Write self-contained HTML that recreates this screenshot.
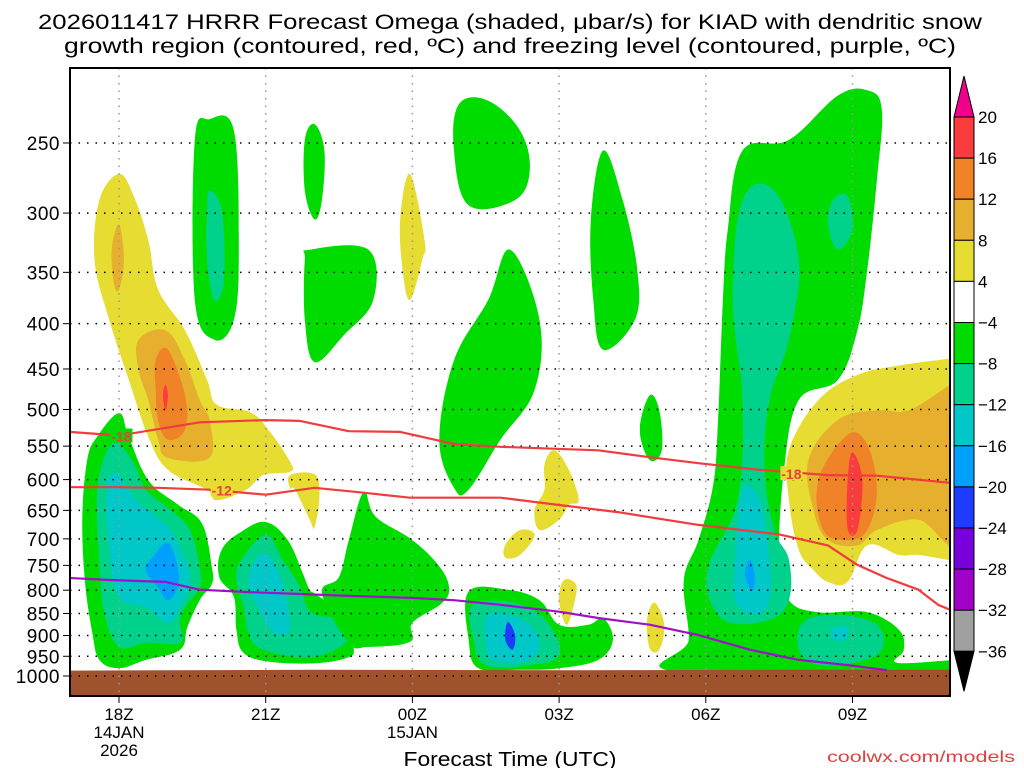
<!DOCTYPE html>
<html><head><meta charset="utf-8"><style>
html,body{margin:0;padding:0;background:#fff;}
svg{display:block;}
</style></head><body>
<svg id="chart" width="1024" height="768" viewBox="0 0 1024 768" xmlns="http://www.w3.org/2000/svg" font-family="'Liberation Sans', sans-serif">
<defs><clipPath id="plotclip"><rect x="71" y="69" width="878" height="626"/></clipPath></defs>
<text x="510" y="29" text-anchor="middle" font-size="21" textLength="944" lengthAdjust="spacingAndGlyphs">2026011417 HRRR Forecast Omega (shaded, μbar/s) for KIAD with dendritic snow</text>
<text x="510" y="53" text-anchor="middle" font-size="21" textLength="892" lengthAdjust="spacingAndGlyphs">growth region (contoured, red, ºC) and freezing level (contoured, purple, ºC)</text>
<g id="fills" clip-path="url(#plotclip)"></g>
<g id="grid"></g>
<g id="lines" clip-path="url(#plotclip)"></g>
<rect x="70" y="68" width="880" height="628" fill="none" stroke="#000" stroke-width="2"/>
<g id="axes"></g>
<g id="cbar"></g>
<text x="510" y="766" text-anchor="middle" font-size="20" textLength="213" lengthAdjust="spacingAndGlyphs">Forecast Time (UTC)</text>
<text x="1015" y="762" text-anchor="end" font-size="16" fill="#e04040" textLength="188" lengthAdjust="spacingAndGlyphs">coolwx.com/models</text>
</svg>
<script>
// ---- data ----
const pressureTicks = [250,300,350,400,450,500,550,600,650,700,750,800,850,900,950,1000];
const timeTickHours = [18,21,24,27,30,33];
const timeTickLabels = [["18Z","14JAN","2026"],["21Z"],["00Z","15JAN"],["03Z"],["06Z"],["09Z"]];
const cbarLevels = [20,16,12,8,4,-4,-8,-12,-16,-20,-24,-28,-32,-36];
const cbarColors = ["#fa3c3c","#f08228","#e6af2d","#e6dc32","#ffffff","#00dc00","#00d28c","#00c8c8","#00a0ff","#1e3cff","#7800dc","#a000c8","#a0a0a0"];
const groundPressure = [[17,986],[22,984],[27,985],[32,984],[35.2,984]];

const blobLevels = [];
const blobShapes = [];
function addBlob(level, pts){ blobLevels.push(level); blobShapes.push(pts); }
addBlob(6,[[18.0,271],[18.3,287],[18.6,322],[18.8,366],[19.35,407],[19.8,463],[20.0,494],[20.7,504],[21.1,531],[21.5,573],[21.5,588],[20.95,593],[20.6,616],[20.0,633],[19.8,616],[19.0,585],[18.6,537],[18.2,463],[17.8,396],[17.5,339],[17.6,290]]);
addBlob(10,[[18.0,309],[18.1,339],[18.0,366],[17.9,361],[17.85,330]]);
addBlob(10,[[18.4,417],[18.95,407],[19.35,440],[19.65,488],[19.85,514],[19.85,567],[19.0,567],[18.8,541],[18.6,488],[18.4,451]]);
addBlob(14,[[18.75,440],[19.0,428],[19.35,482],[19.35,527],[19.0,541],[18.8,514],[18.75,475]]);
addBlob(18,[[18.95,469],[19.0,482],[18.95,501],[18.9,482]]);
addBlob(6,[[21.5,593],[22.0,592],[22.1,624],[22.0,679],[21.9,666],[21.6,616],[21.5,614]]);
addBlob(6,[[23.95,271],[24.25,322],[24.2,339],[23.95,376],[23.8,348],[23.75,305]]);
addBlob(6,[[26.9,556],[27.2,585],[27.4,633],[27.2,641],[27.0,666],[26.6,684],[26.5,649],[26.7,616],[26.7,577]]);
addBlob(6,[[26.2,684],[26.5,693],[26.2,730],[25.9,735],[25.9,711]]);
addBlob(6,[[27.1,779],[27.35,789],[27.3,831],[27.15,875],[27.0,821]]);
addBlob(6,[[28.95,826],[29.15,875],[29.05,934],[28.85,930],[28.8,864]]);
addBlob(6,[[31.7,556],[32.3,488],[33.1,457],[33.95,446],[35.0,438],[35.2,438],[35.2,742],[35.0,740],[34.35,730],[33.95,730],[33.3,712],[32.9,783],[32.5,783],[32.2,759],[31.9,720],[31.7,633]]);
addBlob(10,[[32.1,570],[32.7,514],[33.5,501],[34.15,501],[35.0,469],[35.2,469],[35.2,702],[34.35,666],[33.5,684],[33.1,712],[32.5,702],[32.2,649]]);
addBlob(14,[[32.3,601],[32.9,534],[33.3,548],[33.5,616],[33.3,684],[32.9,702],[32.4,684]]);
addBlob(18,[[32.9,601],[33.0,559],[33.2,601],[33.1,684],[32.9,681]]);
addBlob(-6,[[19.85,235],[20.35,242],[20.45,330],[20.35,396],[19.95,417],[19.55,376],[19.55,248]]);
addBlob(-10,[[19.85,283],[20.1,298],[20.15,357],[19.95,376],[19.8,339],[19.8,298]]);
addBlob(-6,[[22.0,238],[22.2,255],[22.15,290],[22.0,305],[21.8,283],[21.8,248]]);
addBlob(-6,[[21.9,330],[23.1,330],[23.2,376],[22.6,412],[22.0,442],[21.8,396],[21.8,339]]);
addBlob(-6,[[24.95,226],[25.55,224],[26.2,242],[26.4,268],[26.1,290],[25.15,294],[24.85,255]]);
addBlob(-6,[[26.0,330],[26.6,396],[26.5,475],[25.8,541],[25.15,616],[24.85,613],[24.55,541],[24.85,440],[25.55,376]]);
addBlob(-6,[[27.9,255],[28.3,290],[28.6,348],[28.55,396],[27.9,428],[27.7,376],[27.65,305]]);
addBlob(-6,[[28.85,482],[29.05,501],[29.1,556],[28.85,570],[28.65,527]]);
addBlob(-6,[[30.45,313],[30.75,255],[31.7,248],[32.7,221],[33.3,218],[33.6,229],[33.5,275],[33.3,348],[33.1,407],[32.7,463],[31.9,488],[31.6,585],[31.5,739],[31.7,821],[32.3,847],[33.3,847],[33.95,887],[34.05,934],[33.9,966],[35.0,960],[35.2,960],[35.2,990],[29.45,990],[29.65,910],[29.55,779],[29.85,702],[30.15,609],[30.25,514],[30.35,376]]);
addBlob(-10,[[30.75,290],[31.4,283],[31.9,339],[31.7,417],[31.3,488],[31.2,585],[31.4,684],[31.7,739],[31.7,821],[31.3,864],[30.45,869],[30.05,810],[30.1,739],[30.65,633],[30.75,488],[30.55,376]]);
addBlob(-10,[[32.6,290],[32.9,287],[33.0,313],[32.7,330],[32.5,309]]);
addBlob(-14,[[30.75,616],[31.1,633],[31.3,739],[31.3,821],[31.0,853],[30.6,821],[30.6,739]]);
addBlob(-18,[[30.9,739],[31.0,769],[30.95,803],[30.8,769]]);
addBlob(-10,[[32.0,869],[32.7,853],[33.5,875],[33.6,934],[33.1,964],[32.3,971],[31.9,934]]);
addBlob(-14,[[32.6,882],[32.9,882],[32.85,910],[32.6,910]]);
addBlob(-6,[[18.0,505],[18.2,537],[18.6,601],[19.2,640],[19.7,673],[19.9,754],[19.9,787],[19.65,821],[19.4,880],[19.25,934],[18.55,959],[18.0,980],[17.6,959],[17.45,891],[17.3,779],[17.25,661],[17.35,570],[17.55,537]]);
addBlob(-10,[[17.95,545],[18.3,575],[18.55,616],[19.05,649],[19.45,684],[19.65,754],[19.65,795],[19.4,828],[19.25,864],[19.25,917],[18.55,917],[18.0,927],[17.7,849],[17.6,745],[17.55,627],[17.7,566]]);
addBlob(-14,[[17.95,590],[18.35,633],[19.0,679],[19.3,727],[19.45,779],[19.25,836],[19.0,871],[18.55,836],[18.0,815],[17.8,715],[17.75,616]]);
addBlob(-18,[[19.0,707],[19.2,754],[19.2,795],[19.0,821],[18.8,795],[18.55,759],[18.7,733]]);
addBlob(-6,[[21.0,670],[21.45,702],[21.75,764],[21.9,799],[22.05,810],[22.7,864],[22.8,927],[22.7,952],[22.05,967],[21.1,964],[20.55,942],[20.4,887],[20.35,814],[20.05,773],[20.1,720],[20.5,687]]);
addBlob(-10,[[21.0,693],[21.35,739],[21.7,793],[21.95,849],[22.65,864],[22.7,910],[21.95,952],[20.95,934],[20.65,895],[20.55,836],[20.4,779],[20.5,739]]);
addBlob(-14,[[20.95,726],[21.3,773],[21.5,880],[21.2,895],[20.9,849],[20.65,779]]);
addBlob(-6,[[23.0,620],[23.25,661],[24.0,702],[24.55,752],[24.75,795],[24.6,828],[24.0,871],[23.95,915],[23.1,927],[22.7,917],[22.15,806],[22.5,773],[22.7,702]]);
addBlob(-6,[[25.15,803],[25.95,799],[26.6,821],[27.0,875],[27.6,875],[27.9,860],[28.1,910],[27.8,959],[27.0,980],[26.2,984],[25.35,980],[25.15,910]]);
addBlob(-10,[[25.25,830],[26.2,830],[26.8,875],[27.0,947],[26.4,972],[25.5,972],[25.25,910]]);
addBlob(-14,[[25.55,853],[26.2,860],[26.6,910],[26.4,959],[25.65,959],[25.5,910]]);
addBlob(-22,[[25.95,869],[26.1,899],[26.05,934],[25.9,910]]);

const minus18Hours = [17.0,18.0,19.65,21.0,21.7,22.7,23.75,24.85,25.8,27.8,28.85,29.85,31.1,32.5,33.5,35.0];
const minus18Pres  = [530,535,517,514,515,529,530,547,551,556,566,575,585,593,594,605];
const minus12Hours = [17.0,18.0,18.8,19.85,21.0,22.0,22.9,23.95,24.85,25.8,27.0,28.2,29.85,31.5,32.5,33.1,33.7,34.35,34.75,35.0];
const minus12Pres  = [612,612,613,616,624,613,620,629,629,629,641,653,675,692,712,749,775,799,831,842];
const freezeHours  = [17.0,17.8,18.95,19.65,20.65,21.7,22.7,23.95,24.85,25.8,27.0,27.8,28.85,29.85,30.9,31.9,32.9,33.7];
const freezePres   = [775,779,783,799,804,808,812,816,821,831,846,860,875,899,934,959,972,985];

// ---- scales ----
const X = h => 119 + (h-18)*48.9;
const Y = p => 676 - 384.5*Math.log(1000/p);
const NS = "http://www.w3.org/2000/svg";
function mk(tag, attrs, parent){ const e=document.createElementNS(NS,tag); for(const k in attrs) e.setAttribute(k,attrs[k]); parent.appendChild(e); return e; }
function colorFor(level){
  if(level>=16) return "#fa3c3c"; if(level>=12) return "#f08228"; if(level>=8) return "#e6af2d"; if(level>=4) return "#e6dc32";
  if(level>-8) return "#00dc00"; if(level>-12) return "#00d28c"; if(level>-16) return "#00c8c8"; if(level>-20) return "#00a0ff"; if(level>-24) return "#1e3cff";
  return "#7800dc";
}
function smoothClosed(P){
  const n=P.length; let d='M'+P[0][0].toFixed(1)+','+P[0][1].toFixed(1);
  for(let i=0;i<n;i++){
    const p0=P[(i-1+n)%n],p1=P[i],p2=P[(i+1)%n],p3=P[(i+2)%n];
    const t=0.18;
    const c1=[p1[0]+(p2[0]-p0[0])*t,p1[1]+(p2[1]-p0[1])*t];
    const c2=[p2[0]-(p3[0]-p1[0])*t,p2[1]-(p3[1]-p1[1])*t];
    d+='C'+c1[0].toFixed(1)+','+c1[1].toFixed(1)+' '+c2[0].toFixed(1)+','+c2[1].toFixed(1)+' '+p2[0].toFixed(1)+','+p2[1].toFixed(1);
  }
  return d+'Z';
}
const fills=document.getElementById('fills');
blobShapes.forEach((pts,i)=>{
  const P = pts.map(q=>[X(q[0]),Y(q[1])]);
  const el = mk('path',{d:smoothClosed(P),fill:colorFor(blobLevels[i])},fills);
  
  
});
{
  let d='M'+X(groundPressure[0][0])+','+Y(groundPressure[0][1]);
  groundPressure.forEach(q=>{ d+='L'+X(q[0]).toFixed(1)+','+Y(q[1]).toFixed(1); });
  d+='L'+X(35.2)+',700L'+X(17)+',700Z';
  const g=mk('path',{d:d,fill:"#a0522d"},fills);
  
  
}
const grid=document.getElementById('grid');
pressureTicks.forEach(p=>{
  const l=mk('line',{x1:70,x2:950,y1:Y(p),y2:Y(p),stroke:"#000","stroke-width":1.5,"stroke-dasharray":"1.5 7"},grid);
  
  
});
timeTickHours.forEach(h=>{
  const l=mk('line',{x1:X(h),x2:X(h),y1:68,y2:696,stroke:"#999","stroke-width":1.5,"stroke-dasharray":"1.5 6"},grid);
  
  
});
const lines=document.getElementById('lines');
function drawLine(hs,ps,color,name){
  const d=hs.map((h,i)=>(i?'L':'M')+X(h).toFixed(1)+','+Y(ps[i]).toFixed(1)).join('');
  const el=mk('path',{d:d,fill:"none",stroke:color,"stroke-width":2.2,"stroke-linejoin":"round"},lines);
  
  
}
drawLine(minus18Hours,minus18Pres,"#f03c3c","contour-minus18");
drawLine(minus12Hours,minus12Pres,"#f03c3c","contour-minus12");
drawLine(freezeHours,freezePres,"#a010c8","freezing-level-line");
function lineLabel(h,p,txt,bgColor){
  const bg=mk('rect',{x:X(h)-11,y:Y(p)-7,width:22,height:14,fill:bgColor},lines);
  
  
  const t=mk('text',{x:X(h),y:Y(p)+6,"text-anchor":"middle","font-size":14,"font-weight":"bold",fill:"#f03c3c"},lines);
  t.textContent=txt;
  
  
}
lineLabel(18.05,535,"-18","#00dc00");
lineLabel(20.1,616,"-12","#e6dc32");
lineLabel(31.75,590,"-18","#e6dc32");
const axes=document.getElementById('axes');
pressureTicks.forEach(p=>{
  const t=mk('line',{x1:63,x2:70,y1:Y(p),y2:Y(p),stroke:"#000","stroke-width":1},axes);
  
  
  const s=mk('text',{x:60,y:Y(p)+7,"text-anchor":"end","font-size":19,"letter-spacing":"0.5"},axes);
  s.textContent=p;
  
  
});
timeTickHours.forEach((h,i)=>{
  const t=mk('line',{x1:X(h),x2:X(h),y1:696,y2:703,stroke:"#000","stroke-width":1},axes);
  
  
  timeTickLabels[i].forEach((lab,j)=>{
    const s=mk('text',{x:X(h),y:720+j*18,"text-anchor":"middle","font-size":17},axes);
    s.textContent=lab;
    
    
  });
});
const cbar=document.getElementById('cbar');
const cbTop=117, cbStep=41.1, cbX=954, cbW=20;
const tri=mk('path',{d:`M${cbX},${cbTop}L${cbX+cbW/2},76L${cbX+cbW},${cbTop}Z`,fill:"#f0008c",stroke:"#000","stroke-width":1},cbar);


cbarColors.forEach((c,i)=>{
  const r=mk('rect',{x:cbX,y:cbTop+i*cbStep,width:cbW,height:cbStep,fill:c,stroke:"#000","stroke-width":1},cbar);
  
  
});
const bot=cbTop+cbarColors.length*cbStep;
const tri2=mk('path',{d:`M${cbX},${bot}L${cbX+cbW/2},${bot+40}L${cbX+cbW},${bot}Z`,fill:"#000",stroke:"#000","stroke-width":1},cbar);


cbarLevels.forEach((v,i)=>{
  const s=mk('text',{x:978,y:cbTop+i*cbStep+6,"font-size":17},cbar);
  s.textContent=(v<0?'\u2212':'')+Math.abs(v);
  
  
});
</script>
</body></html>
